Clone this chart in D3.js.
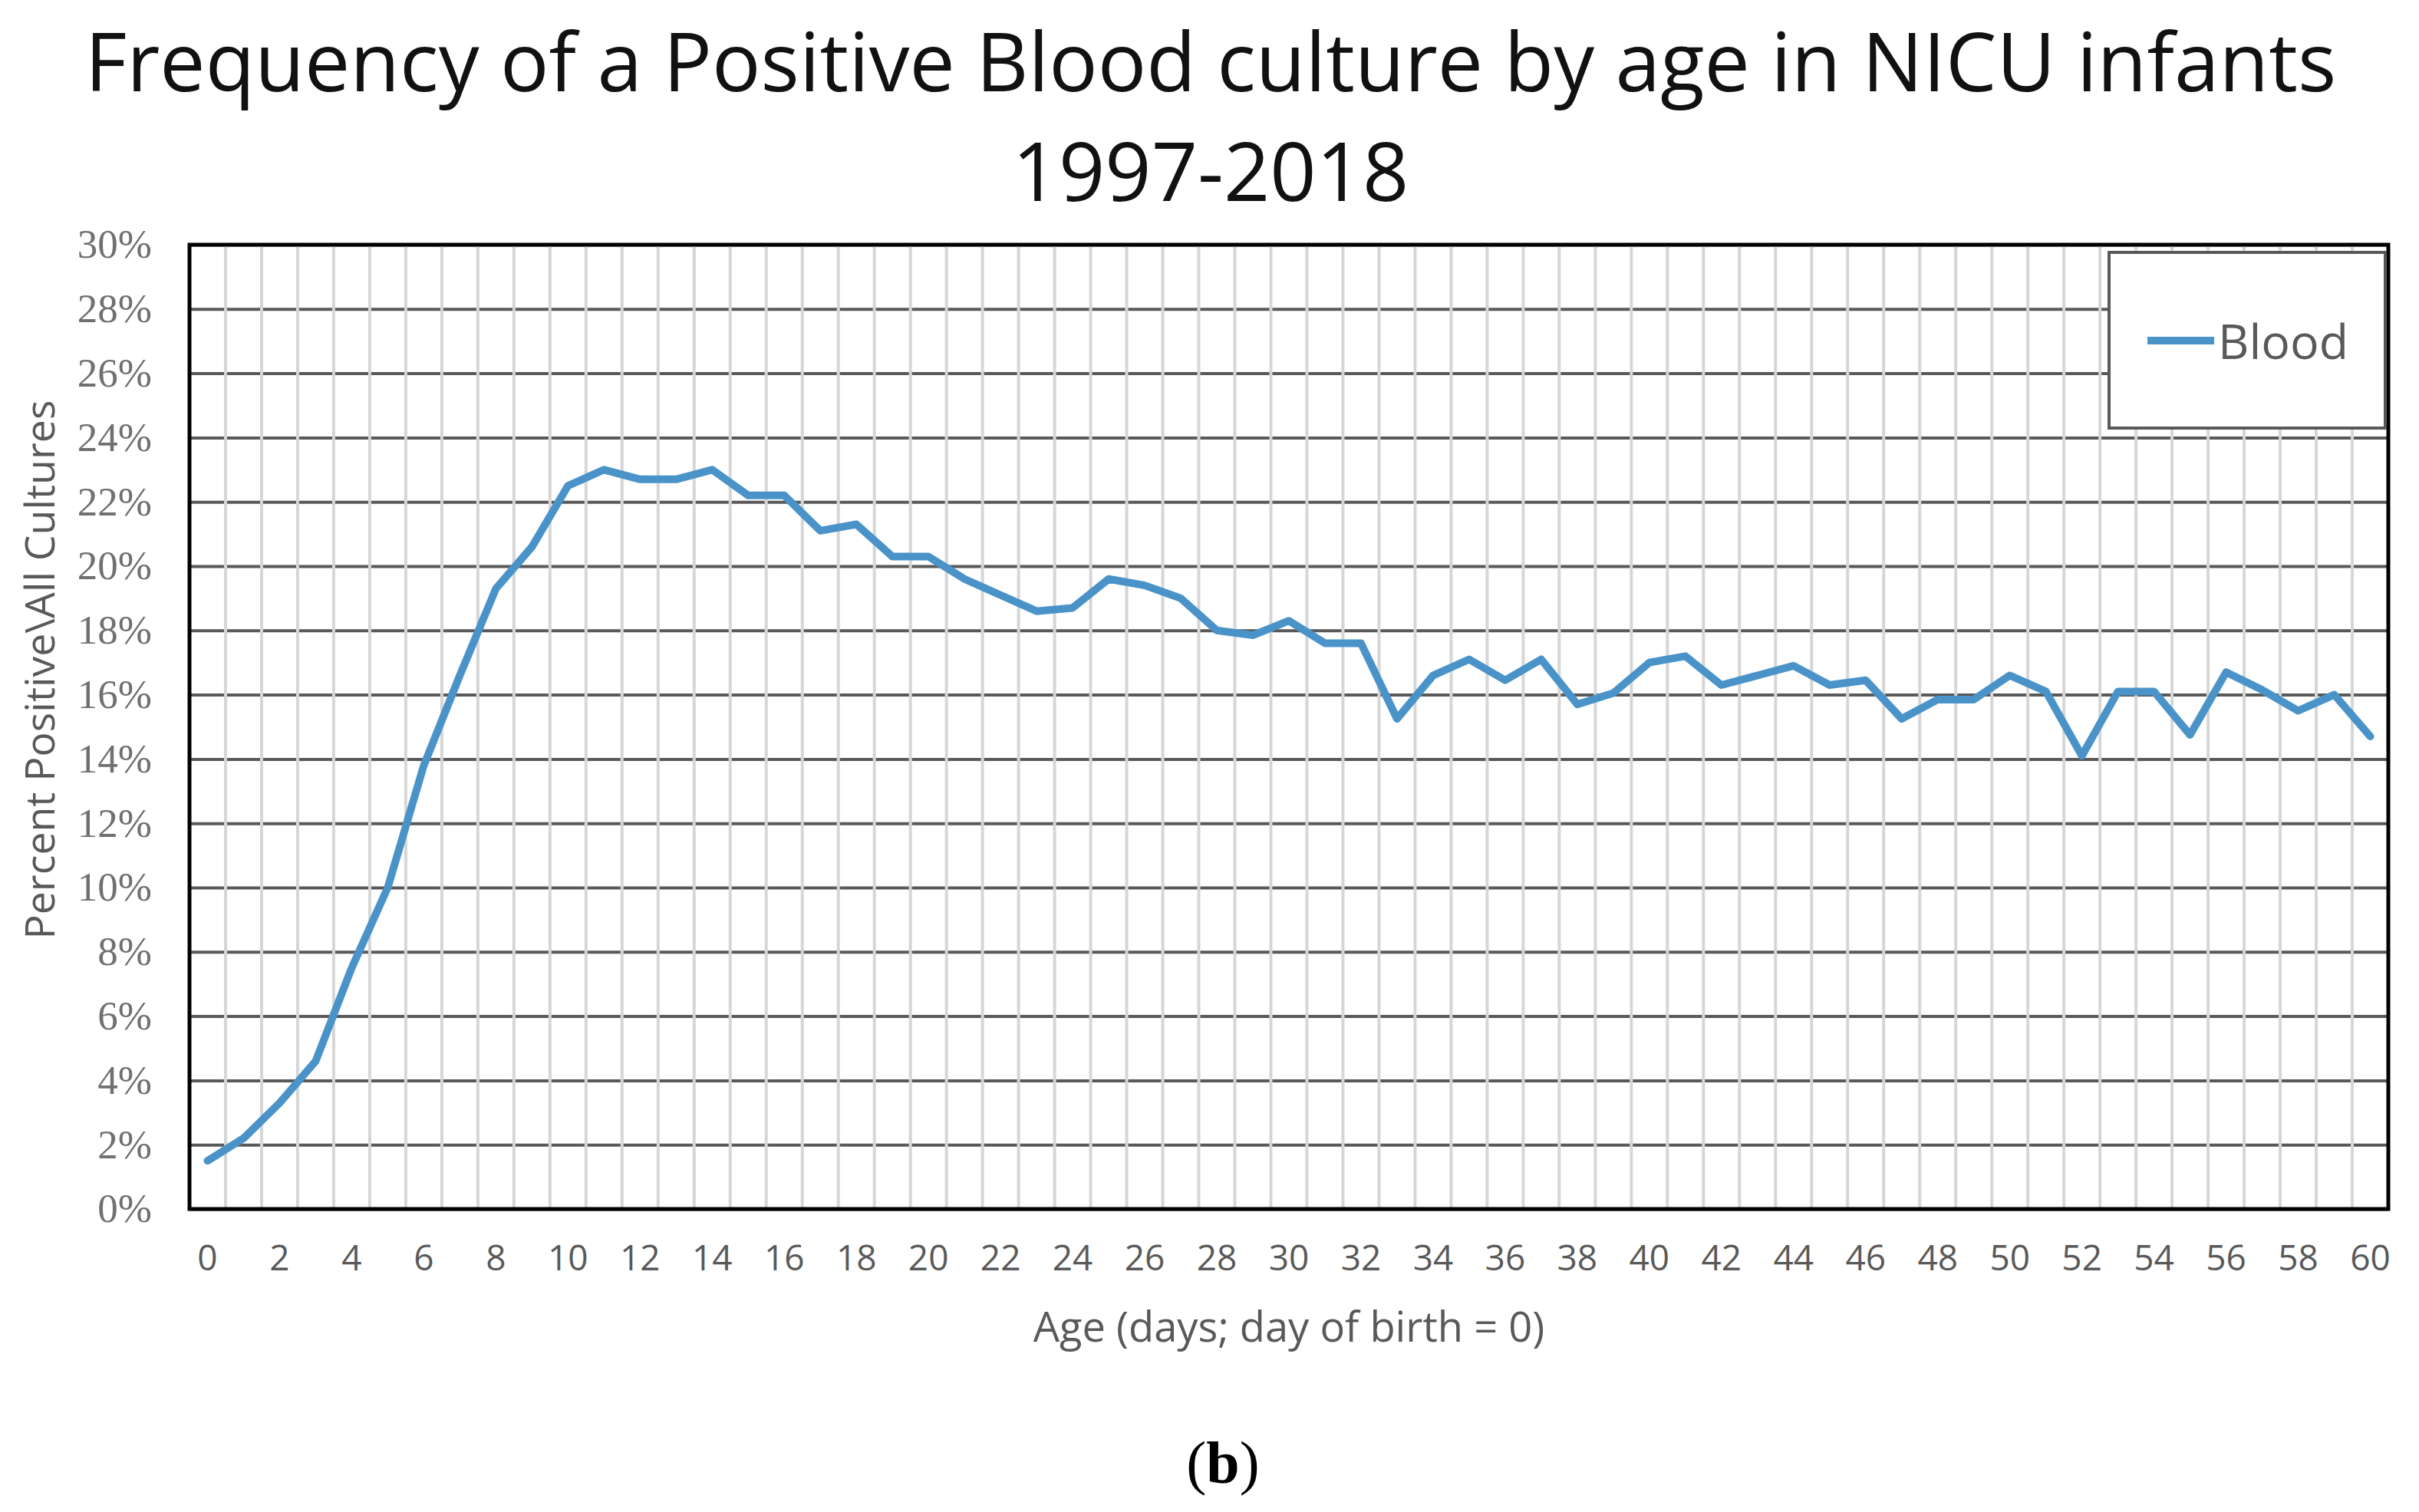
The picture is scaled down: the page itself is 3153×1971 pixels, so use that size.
<!DOCTYPE html>
<html>
<head>
<meta charset="utf-8">
<script src="https://cdn.jsdelivr.net/npm/d3@7"></script>
<style>
  body { margin: 0; background: #fff; }
  svg { display: block; }
</style>
</head>
<body>
<div id="chart"></div>
<script>
// days since birth (categories)
var days = d3.range(0, 61);

// percent positive
var bloodValues = [
  1.5, 2.2, 3.3, 4.6, 7.5, 10.0, 13.8, 16.6, 19.3, 20.6,
  22.5, 23.0, 22.7, 22.7, 23.0, 22.2, 22.2, 21.1, 21.3, 20.3,
  20.3, 19.6, 19.1, 18.6, 18.7, 19.6, 19.4, 19.0, 18.0, 17.85,
  18.3, 17.6, 17.6, 15.25, 16.6, 17.1, 16.45, 17.1, 15.7, 16.05,
  17.0, 17.2, 16.3, 16.6, 16.9, 16.3, 16.45, 15.25, 15.85, 15.85,
  16.6, 16.1, 14.1, 16.1, 16.1, 14.75, 16.7, 16.15, 15.5, 16.0,
  14.7
];

var yTicks = [0, 2, 4, 6, 8, 10, 12, 14, 16, 18, 20, 22, 24, 26, 28, 30];
var xTicks = d3.range(0, 61, 2);

var seriesName = "Blood";
var titleLines = ["Frequency of a Positive Blood culture by age in NICU infants", "1997-2018"];
var xTitle = "Age (days; day of birth = 0)";
var yTitle = "Percent Positive\\All Cultures";

var W = 3153, H = 1971;
var plot = { left: 247, right: 3113, top: 319, bottom: 1576 };
var blue = "#4a93c9";

var svg = d3.select("#chart").append("svg")
    .attr("width", W)
    .attr("height", H);

svg.append("rect").attr("width", W).attr("height", H).attr("fill", "#fff");

var x = d3.scaleBand()
    .domain(days)
    .range([plot.left, plot.right]);

var y = d3.scaleLinear()
    .domain([0, 30])
    .range([plot.bottom, plot.top]);

// shrink or grow a text's font so it spans a given width
function fitWidth(sel, target) {
  var fs = parseFloat(sel.attr("font-size"));
  var w = sel.node().getComputedTextLength();
  sel.attr("font-size", fs * target / w);
  return fs * target / w;
}

// title
var t1 = svg.append("text")
    .attr("x", 1578).attr("y", 119)
    .attr("text-anchor", "middle")
    .attr("font-family", "Open Sans")
    .attr("font-size", 108)
    .attr("fill", "#111")
    .text(titleLines[0]);
var tSize = fitWidth(t1, 2935);
svg.append("text")
    .attr("x", 1578).attr("y", 262)
    .attr("text-anchor", "middle")
    .attr("font-family", "Open Sans")
    .attr("font-size", tSize)
    .attr("fill", "#111")
    .text(titleLines[1]);

// horizontal gridlines (dark)
svg.append("g")
    .attr("class", "hgrid")
    .attr("transform", "translate(" + plot.left + ",0)")
    .call(d3.axisLeft(y).tickValues(yTicks).tickSize(-(plot.right - plot.left)).tickFormat(""))
    .call(function (g) { g.select(".domain").remove(); })
    .selectAll("line")
    .attr("stroke", "#595959")
    .attr("stroke-width", 4);

// vertical gridlines at category boundaries (light, drawn over)
svg.append("g")
    .attr("class", "vgrid")
    .selectAll("line")
    .data(days.slice(1))
    .enter()
    .append("line")
    .attr("x1", function (d) { return x(d); })
    .attr("x2", function (d) { return x(d); })
    .attr("y1", plot.top)
    .attr("y2", plot.bottom)
    .attr("stroke", "#d6d6d6")
    .attr("stroke-width", 4);

// y axis labels
var gy = svg.append("g")
    .attr("transform", "translate(" + plot.left + ",0)")
    .call(d3.axisLeft(y).tickValues(yTicks).tickSize(0).tickPadding(49)
        .tickFormat(function (d) { return d + "%"; }));
gy.select(".domain").remove();
gy.selectAll("text")
    .attr("font-family", "Liberation Serif")
    .attr("font-size", 53)
    .attr("fill", "#707070");

// x axis labels
var gx = svg.append("g")
    .attr("transform", "translate(0," + plot.bottom + ")")
    .call(d3.axisBottom(x).tickValues(xTicks).tickSize(0).tickPadding(47));
gx.select(".domain").remove();
gx.selectAll("text")
    .attr("font-family", "Open Sans")
    .attr("font-size", 46)
    .attr("fill", "#595959");

// axis titles
var xt = svg.append("text")
    .attr("x", (plot.left + plot.right) / 2).attr("y", 1749)
    .attr("text-anchor", "middle")
    .attr("font-family", "Open Sans")
    .attr("font-size", 50)
    .attr("fill", "#595959")
    .text(xTitle);
fitWidth(xt, 667);

var yt = svg.append("text")
    .attr("transform", "translate(50,873) rotate(-90)")
    .attr("text-anchor", "middle")
    .attr("dominant-baseline", "central")
    .attr("font-family", "Open Sans")
    .attr("font-size", 50)
    .attr("fill", "#595959")
    .text(yTitle);
fitWidth(yt, 703);

// data line
var line = d3.line()
    .x(function (d, i) { return x(days[i]) + x.bandwidth() / 2; })
    .y(function (d) { return y(d); });

svg.append("path")
    .datum(bloodValues)
    .attr("fill", "none")
    .attr("stroke", blue)
    .attr("stroke-width", 10)
    .attr("stroke-linejoin", "round")
    .attr("stroke-linecap", "round")
    .attr("d", line);

// plot border
svg.append("rect")
    .attr("x", plot.left).attr("y", plot.top)
    .attr("width", plot.right - plot.left)
    .attr("height", plot.bottom - plot.top)
    .attr("fill", "none")
    .attr("stroke", "#000")
    .attr("stroke-width", 5);

// legend
var legend = svg.append("g");
legend.append("rect")
    .attr("x", 2749).attr("y", 329)
    .attr("width", 360).attr("height", 229)
    .attr("fill", "#fff")
    .attr("stroke", "#595959")
    .attr("stroke-width", 4);
legend.append("line")
    .attr("x1", 2799).attr("x2", 2886)
    .attr("y1", 444).attr("y2", 444)
    .attr("stroke", blue)
    .attr("stroke-width", 10);
var lt = legend.append("text")
    .attr("x", 2891).attr("y", 468)
    .attr("font-family", "Open Sans")
    .attr("font-size", 62)
    .attr("fill", "#595959")
    .text(seriesName);
fitWidth(lt, 170);

// panel tag
var tag = svg.append("text")
    .attr("x", 1594).attr("y", 1933)
    .attr("text-anchor", "middle")
    .attr("font-family", "Liberation Serif")
    .attr("font-size", 78)
    .attr("fill", "#000");
tag.append("tspan").text("(");
tag.append("tspan").attr("font-weight", "bold").text("b");
tag.append("tspan").text(")");
</script>
</body>
</html>
